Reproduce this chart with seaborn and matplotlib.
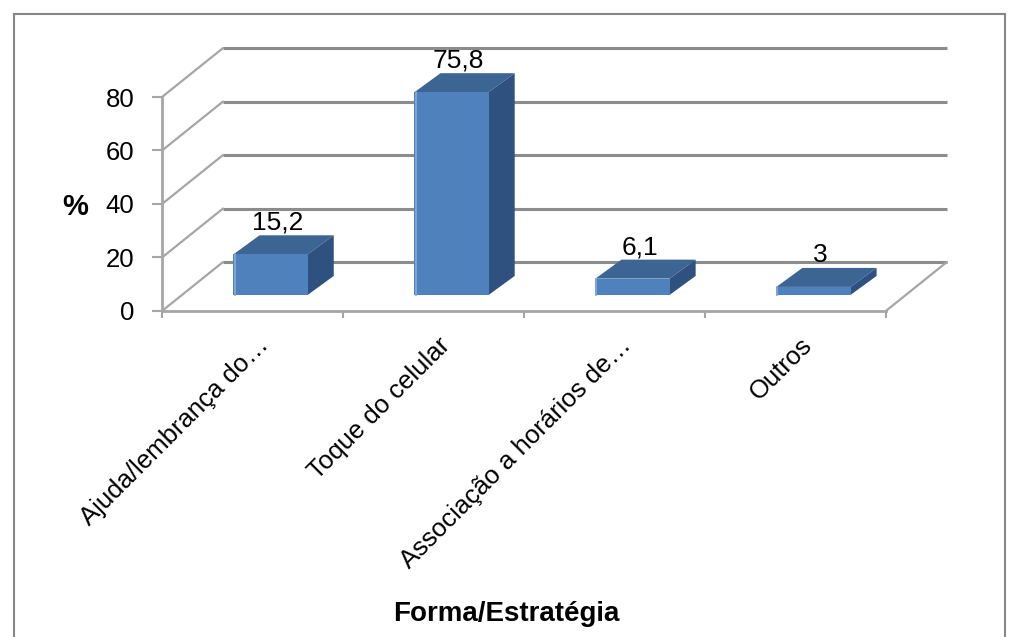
import matplotlib
matplotlib.use("Agg")
import matplotlib.pyplot as plt
import seaborn as sns
from matplotlib.patches import Polygon, Rectangle

# dados
categorias = ["Ajuda/lembrança do…", "Toque do celular",
              "Associação a horários de…", "Outros"]
percentuais = [15.2, 75.8, 6.1, 3]
rotulos = ["15,2", "75,8", "6,1", "3"]
yticks = [0, 20, 40, 60, 80]

sns.set_style("white")
plt.rcParams["font.family"] = ["Liberation Sans", "DejaVu Sans"]
plt.rcParams["text.color"] = "black"
plt.rcParams["xtick.labelcolor"] = "black"
plt.rcParams["ytick.labelcolor"] = "black"
plt.rcParams["axes.labelcolor"] = "black"

fig = plt.figure(figsize=(10.12, 6.37), dpi=100)
ax = fig.add_axes([0.1601, 0.5118, 0.7796, 0.4199])

# falso 3D: deslocamentos em unidades de dados
wall_dx, wall_dy = 0.337, 18.3   # parede do fundo
shift_x, shift_y = 0.10, 6.0     # face frontal das barras
bar_dx, bar_dy = 0.144, 7.1      # profundidade das barras
grid_c = "#8c8c8c"
axis_c = "#a6a6a6"

# grade da parede do fundo e diagonais da parede lateral
for v in yticks:
    ax.plot([-0.5 + wall_dx, 3.5 + wall_dx], [v + wall_dy] * 2,
            color=grid_c, lw=2.2, zorder=1, solid_capstyle="butt")
    ax.plot([-0.5, -0.5 + wall_dx], [v, v + wall_dy],
            color=axis_c, lw=1.6, zorder=1)
ax.plot([3.5, 3.5 + wall_dx], [0, wall_dy], color=axis_c, lw=1.6, zorder=1)

sns.barplot(x=categorias, y=percentuais, color="#4F81BD", saturation=1,
            width=0.41, ax=ax, zorder=4, linewidth=0)

for p, lab in zip(ax.patches, rotulos):
    p.set_x(p.get_x() + shift_x)
    p.set_y(shift_y)
    x0, w, h = p.get_x(), p.get_width(), p.get_height()
    x1, y0, y1 = x0 + w, shift_y, shift_y + h
    topo = Polygon([(x0, y1), (x1, y1), (x1 + bar_dx, y1 + bar_dy),
                    (x0 + bar_dx, y1 + bar_dy)], closed=True,
                   facecolor="#3D6594", edgecolor="none", zorder=3)
    lado = Polygon([(x1, y0), (x1 + bar_dx, y0 + bar_dy),
                    (x1 + bar_dx, y1 + bar_dy), (x1, y1)], closed=True,
                   facecolor="#2F5180", edgecolor="none", zorder=3)
    ax.add_patch(topo)
    ax.add_patch(lado)
    ax.plot([x0 + 0.006] * 2, [y0, y1], color="#7FA4D2", lw=1.5, zorder=5)
    ax.text(x0 + w / 2 + 0.04, y1 + bar_dy + 0.2, lab, ha="center",
            va="bottom", fontsize=19, zorder=6)

ax.set_xlim(-0.5, 3.86)
ax.set_ylim(0, 100)

for s in ["top", "right"]:
    ax.spines[s].set_visible(False)
ax.spines["left"].set_bounds(0, 80)
ax.spines["bottom"].set_bounds(-0.5, 3.5)
for s in ["left", "bottom"]:
    ax.spines[s].set_color(axis_c)
    ax.spines[s].set_linewidth(2)
    ax.spines[s].set_zorder(2)

ax.set_yticks(yticks)
ax.set_yticklabels([str(t) for t in yticks])
ax.tick_params(axis="y", length=7, width=1.5, color=axis_c, labelsize=18.5,
               pad=13, left=True)

ax.set_xticks([-0.5, 0.5, 1.5, 2.5, 3.5])
ax.set_xticklabels([])
ax.set_xticks([i + 0.07 for i in range(len(categorias))], minor=True)
ax.set_xticklabels(categorias, minor=True)
ax.tick_params(axis="x", which="major", length=5, width=1.5, color=axis_c,
               bottom=True)
ax.tick_params(axis="x", which="minor", length=0, labelsize=18.5, pad=22)
plt.setp(ax.get_xticklabels(minor=True), rotation=45, ha="right",
         va="center", rotation_mode="anchor")

ax.set_ylabel("%", rotation=0, fontsize=21, fontweight="bold",
              va="center", ha="center")
ax.yaxis.set_label_coords((75 - 162) / 789, (311 - 207) / 267.5)
ax.set_xlabel("Forma/Estratégia", fontsize=20, fontweight="bold",
              va="center", ha="center")
ax.xaxis.set_label_coords((506 - 162) / 789, (311 - 614) / 267.5)

# moldura do gráfico
fig.add_artist(Rectangle((14 / 1012, -0.05), (1005 - 14) / 1012, 1.028,
                         transform=fig.transFigure, fill=False,
                         edgecolor="#868686", lw=1.5))

fig.savefig("out.png", dpi=100)
